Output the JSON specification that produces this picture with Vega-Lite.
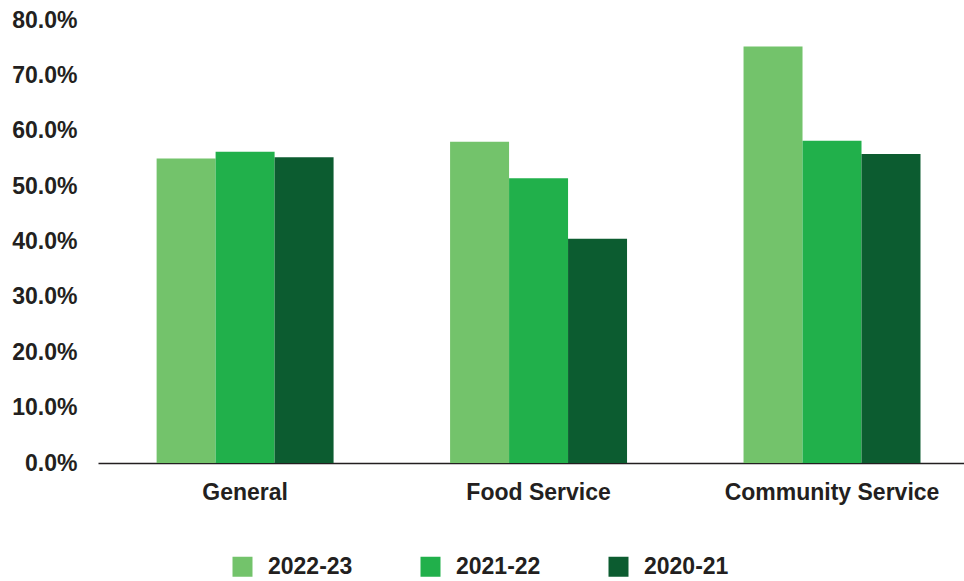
{
  "$schema": "https://vega.github.io/schema/vega-lite/v6.json",
  "width": 866,
  "height": 443,
  "autosize": "none",
  "padding": {"left": 98, "top": 20, "right": 0, "bottom": 118},
  "background": "white",
  "data": {
    "values": [
      {"category": "General", "year": "2022-23", "share": 0.550},
      {"category": "General", "year": "2021-22", "share": 0.562},
      {"category": "General", "year": "2020-21", "share": 0.552},
      {"category": "Food Service", "year": "2022-23", "share": 0.580},
      {"category": "Food Service", "year": "2021-22", "share": 0.514},
      {"category": "Food Service", "year": "2020-21", "share": 0.405},
      {"category": "Community Service", "year": "2022-23", "share": 0.752},
      {"category": "Community Service", "year": "2021-22", "share": 0.582},
      {"category": "Community Service", "year": "2020-21", "share": 0.558}
    ]
  },
  "mark": {"type": "bar"},
  "encoding": {
    "x": {
      "field": "category",
      "type": "nominal",
      "sort": ["General", "Food Service", "Community Service"],
      "scale": {"paddingInner": 0.397, "paddingOuter": 0.174, "align": 0.574},
      "axis": {
        "title": null,
        "labelAngle": 0,
        "ticks": false,
        "domainColor": "#231F20",
        "domainWidth": 1.5,
        "labelPadding": 18,
        "labelBaseline": "top",
        "labelLimit": 0
      }
    },
    "xOffset": {
      "field": "year",
      "type": "nominal",
      "sort": ["2022-23", "2021-22", "2020-21"],
      "scale": {"paddingInner": 0, "paddingOuter": 0}
    },
    "y": {
      "field": "share",
      "type": "quantitative",
      "scale": {"domain": [0, 0.8], "nice": false},
      "axis": {
        "title": null,
        "format": ".1%",
        "values": [0, 0.1, 0.2, 0.3, 0.4, 0.5, 0.6, 0.7, 0.8],
        "grid": false,
        "domain": false,
        "ticks": false,
        "labelPadding": 21
      }
    },
    "color": {
      "field": "year",
      "type": "nominal",
      "scale": {
        "domain": ["2022-23", "2021-22", "2020-21"],
        "range": ["#73C36B", "#21B04B", "#0C5C30"]
      },
      "legend": {
        "title": null,
        "orient": "none",
        "direction": "horizontal",
        "legendX": 133,
        "legendY": 535,
        "padding": 0,
        "symbolType": "square",
        "symbolSize": 400,
        "symbolStrokeWidth": 0,
        "symbolOpacity": 1,
        "labelOffset": 14,
        "columnPadding": 66,
        "labelLimit": 0
      }
    }
  },
  "config": {
    "view": {"stroke": null},
    "font": "Liberation Sans",
    "axis": {
      "labelFont": "Liberation Sans",
      "labelFontSize": 23,
      "labelFontWeight": "bold",
      "labelColor": "#231F20"
    },
    "legend": {
      "labelFont": "Liberation Sans",
      "labelFontSize": 23,
      "labelFontWeight": "bold",
      "labelColor": "#231F20"
    }
  }
}
